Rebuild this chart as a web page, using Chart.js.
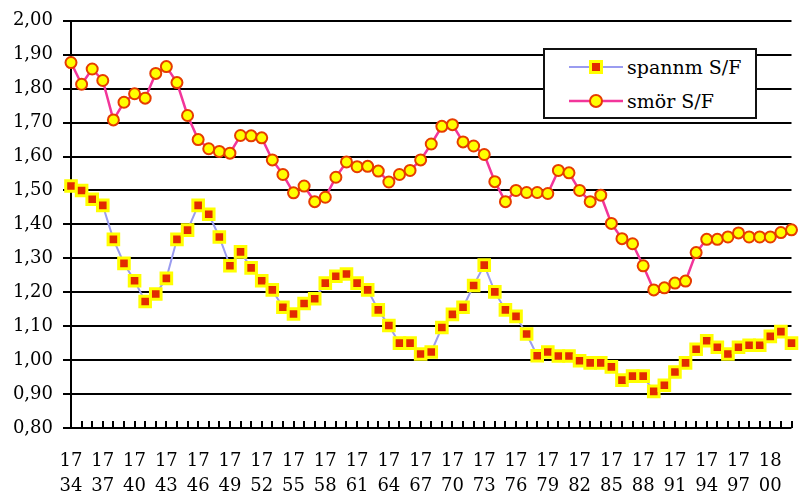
<!DOCTYPE html>
<html>
<head>
<meta charset="utf-8">
<script src="https://cdn.jsdelivr.net/npm/chart.js@4"></script>
<style>
  body { margin: 0; background: #fff; }
  #wrap { position: relative; width: 802px; height: 503px; }
  #legend {
    position: absolute; left: 543px; top: 48px; width: 210px; height: 67px;
    border: 2px solid #111; background: #fff;
    font-family: "DejaVu Serif", serif; font-size: 19px; color: #000;
  }
  .row { position: absolute; left: 0; height: 30px; display: flex; align-items: center; }
  .row svg { margin-left: 24px; margin-right: 4px; }
</style>
</head>
<body>
<div id="wrap">
  <canvas id="chart" width="802" height="503"></canvas>
  <div id="legend">
    <div class="row" style="top:2px">
      <svg width="54" height="20"><line x1="0" y1="10" x2="54" y2="10" stroke="#9a9cf0" stroke-width="2"/><rect x="21.5" y="4.5" width="11" height="11" fill="#e22a00" stroke="#ffff00" stroke-width="3"/></svg>
      <span>spannm S/F</span>
    </div>
    <div class="row" style="top:36px">
      <svg width="54" height="20"><line x1="0" y1="10" x2="54" y2="10" stroke="#f2359a" stroke-width="2.5"/><circle cx="27" cy="10" r="6" fill="#ffff00" stroke="#e63c00" stroke-width="2"/></svg>
      <span>smör S/F</span>
    </div>
  </div>
</div>
<script>
const years = [1734, 1735, 1736, 1737, 1738, 1739, 1740, 1741, 1742, 1743, 1744, 1745,
  1746, 1747, 1748, 1749, 1750, 1751, 1752, 1753, 1754, 1755, 1756, 1757, 1758, 1759,
  1760, 1761, 1762, 1763, 1764, 1765, 1766, 1767, 1768, 1769, 1770, 1771, 1772, 1773,
  1774, 1775, 1776, 1777, 1778, 1779, 1780, 1781, 1782, 1783, 1784, 1785, 1786, 1787,
  1788, 1789, 1790, 1791, 1792, 1793, 1794, 1795, 1796, 1797, 1798, 1799, 1800, 1801, 1802];

const spannm = [1.513, 1.500, 1.474, 1.456, 1.356, 1.285, 1.234, 1.173, 1.195, 1.241, 1.356, 1.383,
  1.456, 1.430, 1.363, 1.278, 1.319, 1.272, 1.234, 1.207, 1.156, 1.136, 1.167, 1.181, 1.227, 1.247,
  1.254, 1.227, 1.207, 1.148, 1.102, 1.050, 1.050, 1.018, 1.024, 1.096, 1.135, 1.156, 1.220, 1.280,
  1.201, 1.148, 1.129, 1.077, 1.013, 1.024, 1.012, 1.012, 0.998, 0.992, 0.992, 0.980, 0.941, 0.953,
  0.953, 0.908, 0.926, 0.965, 0.992, 1.032, 1.057, 1.038, 1.018, 1.038, 1.044, 1.044, 1.070, 1.084, 1.050];

const smor = [1.877, 1.813, 1.858, 1.824, 1.708, 1.760, 1.785, 1.772, 1.845, 1.865, 1.818, 1.721,
  1.650, 1.623, 1.615, 1.610, 1.662, 1.661, 1.655, 1.590, 1.547, 1.493, 1.513, 1.467, 1.480, 1.539,
  1.584, 1.570, 1.571, 1.557, 1.525, 1.547, 1.559, 1.590, 1.637, 1.689, 1.694, 1.643, 1.631, 1.606,
  1.526, 1.467, 1.500, 1.494, 1.494, 1.491, 1.559, 1.552, 1.500, 1.467, 1.486, 1.403, 1.358, 1.343,
  1.278, 1.207, 1.213, 1.227, 1.233, 1.317, 1.356, 1.356, 1.363, 1.375, 1.363, 1.363, 1.363, 1.376, 1.384];

const labelEvery = 3;
const yMin = 0.8, yMax = 2.0, yStep = 0.1;

const fam = '"DejaVu Serif", "Liberation Serif", serif';

new Chart(document.getElementById('chart').getContext('2d'), {
  type: 'line',
  data: {
    labels: years,
    datasets: [
      {
        label: 'spannm S/F',
        data: spannm,
        borderColor: '#9a9cf0',
        borderWidth: 2,
        pointStyle: 'rect',
        pointRadius: 7.5,
        pointBackgroundColor: '#e22a00',
        pointBorderColor: '#ffff00',
        pointBorderWidth: 3,
        tension: 0,
        clip: false
      },
      {
        label: 'smör S/F',
        data: smor,
        borderColor: '#f2359a',
        borderWidth: 2.5,
        pointStyle: 'circle',
        pointRadius: 5.5,
        pointBackgroundColor: '#ffff00',
        pointBorderColor: '#e63c00',
        pointBorderWidth: 2,
        tension: 0,
        clip: false
      }
    ]
  },
  options: {
    responsive: false,
    animation: false,
    layout: { padding: { top: 18, right: 5, left: 0, bottom: 0 } },
    plugins: {
      legend: { display: false },
      tooltip: { enabled: false }
    },
    scales: {
      x: {
        type: 'category',
        offset: false,
        // negative tick length -> small ticks pointing up into the plot
        grid: { display: true, drawOnChartArea: false, drawTicks: true, tickLength: -7, color: '#000', lineWidth: 2 },
        border: { display: false },
        afterFit(scale) {
          scale.height = 75;
          scale.paddingLeft = 0;
          scale.paddingRight = 0;
        },
        ticks: {
          autoSkip: false,
          maxRotation: 0,
          padding: 28,
          color: '#000',
          font: { family: fam, size: 18, lineHeight: 1.4 },
          callback(value, index) {
            if (index % labelEvery !== 0) return '';
            const s = String(years[index]);
            return [s.slice(0, 2), s.slice(2)];
          }
        }
      },
      y: {
        min: yMin,
        max: yMax,
        afterFit(scale) { scale.width = 71; },
        grid: { color: '#000', lineWidth: 2, tickLength: 8, tickColor: '#000', tickWidth: 2 },
        border: { display: true, color: '#000', width: 2 },
        ticks: {
          stepSize: yStep,
          padding: 10,
          color: '#000',
          font: { family: fam, size: 18 },
          callback: v => v.toFixed(2).replace('.', ',')
        }
      }
    }
  }
});
</script>
</body>
</html>
